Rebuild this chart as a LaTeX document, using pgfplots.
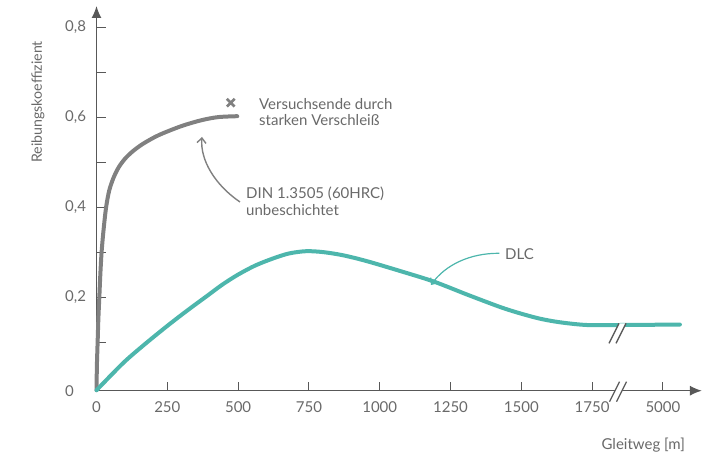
\documentclass[border=0pt]{standalone}
\usepackage{fontspec}
\setmainfont{Lato}
\usepackage{pgfplots}
\pgfplotsset{compat=1.18}
\usetikzlibrary{arrows.meta}
\definecolor{axisgray}{RGB}{88,88,88}
\definecolor{txtgray}{RGB}{105,105,105}
\definecolor{curvegray}{RGB}{128,128,128}
\definecolor{dlcteal}{RGB}{77,182,172}
\newcommand{\lbl}{\fontsize{15}{16.5}\selectfont}
% break mark: two slashes with a white gap between them
\newcommand{\brk}[3]{%
  \fill[white] (#1-5pt,#2-10pt) -- (#1+2pt,#2-10pt) -- (#1+12pt,#2+10pt) -- (#1+5pt,#2+10pt) -- cycle;
  \draw[#3, line width=1.3pt] (#1-5pt,#2-10pt) -- (#1+5pt,#2+10pt);
  \draw[#3, line width=1.3pt] (#1+2pt,#2-10pt) -- (#1+12pt,#2+10pt);
}
\begin{document}
\begin{tikzpicture}
\begin{axis}[
  x=0.2832pt, y=450pt,
  xmin=0, xmax=2138,
  ymin=-0.008, ymax=0.847,
  axis lines=left,
  axis line style={axisgray, line width=1.6pt, -{Latex[length=12pt,width=10pt]}},
  xtick={0,250,500,750,1000,1250,1500,1750,2000},
  xticklabels={0,250,500,750,1000,1250,1500,1750,5000},
  ytick={-0.008,0.2,0.4,0.6,0.8},
  yticklabels={0,{0,2},{0,4},{0,6},{0,8}},
  minor ytick={0.1,0.3,0.5,0.7},
  tick align=inside,
  major tick length=9pt, minor tick length=9pt,
  tick style={axisgray, line width=1pt},
  ticklabel style={font=\lbl, text=txtgray},
  xticklabel style={yshift=-7pt},
  yticklabel style={anchor=west, inner sep=0pt, xshift=-31.5pt},
  clip=false,
]
% DIN 1.3505 unbeschichtet
\addplot[curvegray, line width=4pt, line cap=round, smooth, tension=0.5] coordinates {
  (0,-0.007) (1.5,0.05) (4,0.1) (6.5,0.15) (10,0.2) (13.5,0.25) (18,0.3)
  (25,0.35) (34,0.4) (45,0.437) (60,0.465) (78,0.488) (100,0.507) (128,0.524)
  (165,0.541) (220,0.56) (300,0.58) (370,0.593) (430,0.6) (497,0.602)
};
% DLC
\addplot[dlcteal, line width=4pt, line cap=round, smooth] coordinates {
  (0,-0.007) (95,0.054) (170,0.095) (250,0.136) (320,0.170) (389,0.202)
  (445,0.228) (500,0.250) (560,0.270) (624,0.286) (680,0.297) (740,0.302)
  (800,0.300) (870,0.293) (954,0.280) (1072,0.258) (1189,0.235)
  (1307,0.206) (1425,0.178) (1495,0.164) (1566,0.152) (1637,0.144)
  (1731,0.138) (1849,0.138) (2060,0.139)
};
% Versuchsende
\addplot[only marks, mark=x, mark size=5.5pt, curvegray, line width=2.6pt,
  mark options={line cap=butt}] coordinates {(474,0.632)};
\end{axis}
% break marks
\brk{517.5pt}{57.4pt}{axisgray}
\brk{518pt}{-1pt}{axisgray}
% annotations
\node[anchor=north west, inner sep=0pt, align=left, font=\lbl, text=txtgray]
  at (162.5pt,292.5pt) {Versuchsende durch\\starken Verschleiß};
\node[anchor=north west, inner sep=0pt, align=left, font=\lbl, text=txtgray]
  at (149.5pt,203.7pt) {DIN 1.3505 (60HRC)\\unbeschichtet};
\draw[curvegray, line width=1.4pt, -{Straight Barb[length=5pt,width=9pt]}]
  (143.5pt,188.7pt) .. controls (118.5pt,205.7pt) and (103.5pt,230.7pt) .. (105.5pt,253.7pt);
\node[anchor=base west, inner sep=0pt, font=\lbl, text=txtgray] at (408.5pt,130.7pt) {DLC};
\draw[dlcteal, line width=1.2pt, -{Straight Barb[length=5pt,width=9pt]}]
  (402.8pt,137.4pt) .. controls (373.5pt,137.7pt) and (348.5pt,125.7pt) .. (334.5pt,105.7pt);
\node[rotate=90, inner sep=0pt, font=\fontsize{14.2}{16}\selectfont, text=txtgray]
  at (-58.5pt,288.7pt) {Reibungskoeffizient};
\node[anchor=base east, inner sep=0pt, font=\lbl, text=txtgray] at (588.5pt,-58.6pt) {Gleitweg [m]};
\pgfresetboundingbox
\path[use as bounding box] (-96.5pt,-61.3pt) rectangle (618.5pt,390.7pt);
\end{tikzpicture}
\end{document}
